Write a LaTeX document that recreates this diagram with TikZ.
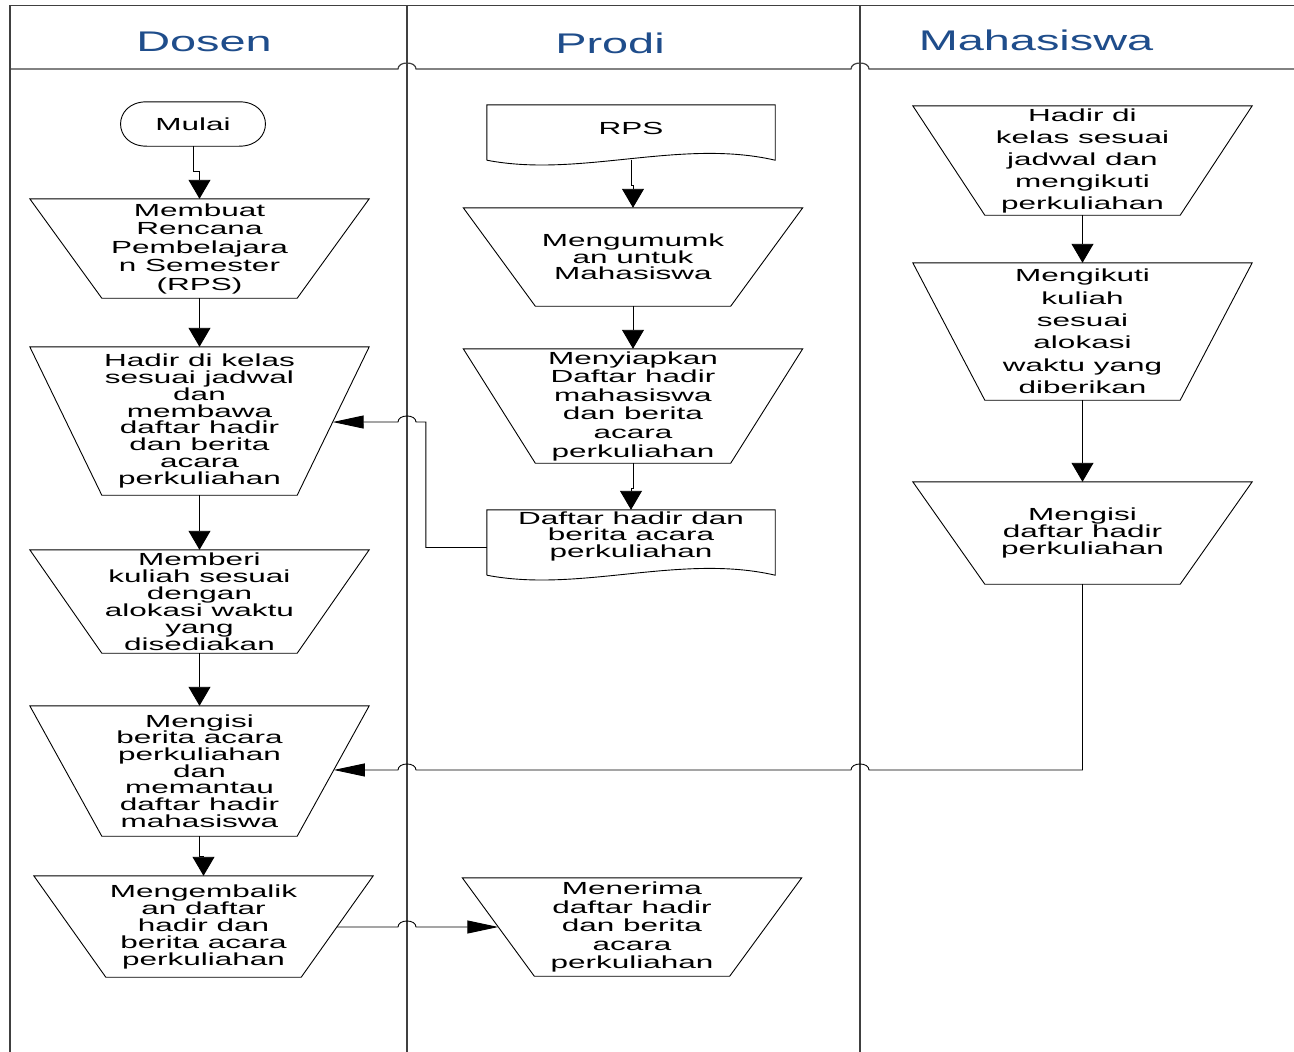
\documentclass[tikz,border=0pt]{standalone}
\usepackage{fontspec}
\setmainfont{Liberation Sans}
\newfontfamily\bodyfont[FakeStretch=1.8]{Liberation Sans}
\newfontfamily\headfont[FakeStretch=1.65]{Liberation Sans}
\usetikzlibrary{arrows.meta,calc}
\definecolor{headblue}{RGB}{31,77,139}
\definecolor{lanegray}{RGB}{64,64,64}
\newcommand\bsz[1]{\bodyfont\fontsize{17.5}{#1}\selectfont\lineskiplimit-50pt\relax}
\newcommand\mtrap[5]{%
  \node[txt,minimum width=339pt,minimum height=#3pt,font=\bsz{#4}] (#1) at (#2) {#5};
  \coordinate (#1-se) at ([xshift=-72pt]#1.south east);
  \coordinate (#1-sw) at ([xshift=72pt]#1.south west);
  \draw[shp] (#1.north west) -- (#1.north east) -- (#1-se) -- (#1-sw) -- cycle;
}
\begin{document}
\begin{tikzpicture}[x=1pt,y=-1pt,
  lane/.style={draw=lanegray,line width=1.2pt},
  shp/.style={draw=black,line width=0.9pt,line join=miter},
  conn/.style={draw=black,line width=0.9pt},
  va/.style={conn,-{Triangle[length=19pt,width=22pt]}},
  ha/.style={conn,-{Triangle[length=31pt,width=13pt]}},
  txt/.style={inner sep=0pt,align=center},
  head/.style={font=\headfont\fontsize{28.4}{30}\selectfont,text=headblue,inner sep=0pt,anchor=base}]

\useasboundingbox (0,0) rectangle (1294,1052);
\fill[white] (0,0) rectangle (1294,1052);

% swimlanes
\draw[lane] (10,1052) -- (10,5.5) -- (1294,5.5);
\draw[lane] (407,5.5) -- (407,1052);
\draw[lane] (860,5.5) -- (860,1052);
\draw[lane] (10,69) -- (398,69) .. controls (398,61) and (416,61) .. (416,69)
  -- (851,69) .. controls (851,61) and (869,61) .. (869,69) -- (1294,69);

\node[head] (hd) at (204,51) {Dosen};
\node[head] (hp) at (610,53) {Prodi};
\node[head] (hm) at (1036,50) {Mahasiswa};

% Dosen
\node[txt,minimum width=144pt,minimum height=44pt,font=\bsz{17}] (mulai) at (193,124) {Mulai};
\draw[shp] ($(mulai.north west)+(26,0)$) -- ($(mulai.north east)+(-26,0)$)
  .. controls ($(mulai.north east)+(9,0)$) and ($(mulai.south east)+(9,0)$) .. ($(mulai.south east)+(-26,0)$)
  -- ($(mulai.south west)+(26,0)$)
  .. controls ($(mulai.south west)+(-9,0)$) and ($(mulai.north west)+(-9,0)$) .. ($(mulai.north west)+(26,0)$);

\mtrap{t1}{199.5,248.5}{99}{18.5}{Membuat\\Rencana\\Pembelajara\\n Semester\\(RPS)}
\mtrap{t2}{199.5,421}{148}{16.9}{Hadir di kelas\\sesuai jadwal\\dan\\membawa\\daftar hadir\\dan berita\\acara\\perkuliahan}
\mtrap{t3}{199.5,601.5}{103}{17}{Memberi\\kuliah sesuai\\dengan\\alokasi waktu\\yang\\disediakan}
\mtrap{t4}{199.5,771}{130}{16.7}{Mengisi\\berita acara\\perkuliahan\\dan\\memantau\\daftar hadir\\mahasiswa}
\mtrap{t5}{203.5,926.5}{101}{17}{Mengembalik\\an daftar\\hadir dan\\berita acara\\perkuliahan}

% Prodi
\node[inner sep=0pt,minimum width=288pt,minimum height=55pt] (rps) at (631,132.5) {};
\draw[shp] (rps.south west) -- (rps.north west) -- (rps.north east) -- (rps.south east)
  .. controls ($(rps.south east)+(-95,-22)$) and ($(rps.south west)+(93,18)$) .. (rps.south west);
\node[txt,font=\bsz{17}] (rpst) at (631,128) {RPS};

\mtrap{p1}{633,257}{98}{16.5}{Mengumumk\\an untuk\\Mahasiswa}
\mtrap{p2}{633,406}{114}{18.6}{Menyiapkan\\Daftar hadir\\mahasiswa\\dan berita\\acara\\perkuliahan}

\node[inner sep=0pt,minimum width=288pt,minimum height=65pt] (doc2) at (631,542.5) {};
\draw[shp] (doc2.south west) -- (doc2.north west) -- (doc2.north east) -- (doc2.south east)
  .. controls ($(doc2.south east)+(-95,-22)$) and ($(doc2.south west)+(93,18)$) .. (doc2.south west);
\node[txt,font=\bsz{16.5}] (doc2t) at (631,536) {Daftar hadir dan\\berita acara\\perkuliahan};

\mtrap{p3}{632,927}{98}{18.5}{Menerima\\daftar hadir\\dan berita\\acara\\perkuliahan}

% Mahasiswa
\mtrap{m1}{1082.5,160.5}{109}{22}{Hadir di\\kelas sesuai\\jadwal dan\\mengikuti\\perkuliahan}
\mtrap{m2}{1082.5,331.5}{137}{22.4}{Mengikuti\\kuliah\\sesuai\\alokasi\\waktu yang\\diberikan}
\mtrap{m3}{1082.5,533}{102}{17}{Mengisi\\daftar hadir\\perkuliahan}

% side connection points
\coordinate (t2r) at ($(t2.north east)!0.507!(t2-se)$);
\coordinate (t4r) at ($(t4.north east)!0.492!(t4-se)$);
\coordinate (t5r) at ($(t5.north east)!0.505!(t5-se)$);
\coordinate (p3l) at ($(p3.north west)!0.5!(p3-sw)$);

% vertical connectors
\draw[va] (mulai.south) -- ++(0,25) -| (t1.north);
\draw[va] (t1.south) -- (t2.north);
\draw[va] (t2.south) -- (t3.north);
\draw[va] (t3.south) -- (t4.north);
\draw[va] (t4.south) -- ++(0,20) -| (t5.north);
\draw[va] (rps.south) -- ++(0,25) -| (p1.north);
\draw[va] (p1.south) -- (p2.north);
\draw[va] (p2.south) -- ++(0,25) -| (doc2.north);
\draw[va] (m1.south) -- (m2.north);
\draw[va] (m2.south) -- (m3.north);

% horizontal connectors with line hops
\draw[ha] ($(doc2.west)+(0,5)$) -- ++(-61,0) |- (416,422)
  .. controls (416,414) and (398,414) .. (398,422) -- (t2r);
\draw[ha] (m3.south) |- (869,770) .. controls (869,762) and (851,762) .. (851,770)
  -- (416,770) .. controls (416,762) and (398,762) .. (398,770) -- (t4r);
\draw[ha] (t5r) -- (398,927) .. controls (398,919) and (416,919) .. (416,927) -- (p3l);

\end{tikzpicture}
\end{document}
